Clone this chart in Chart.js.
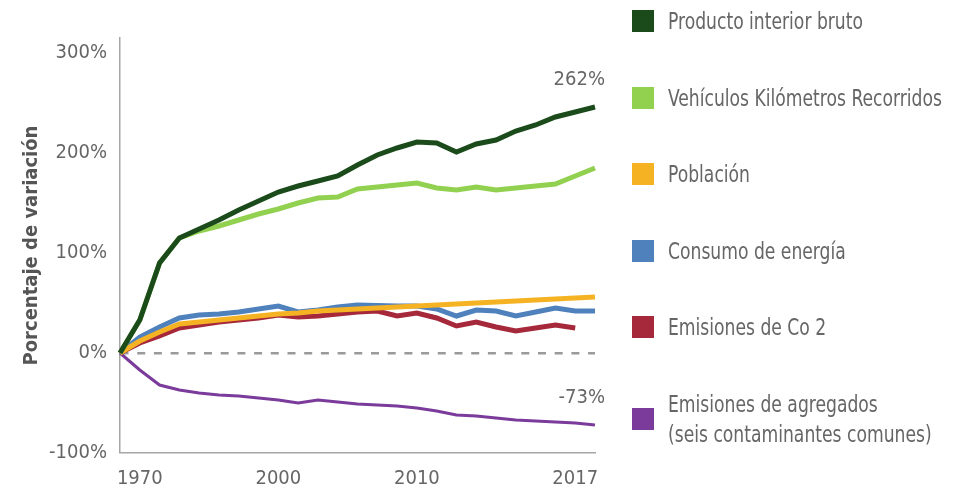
<!DOCTYPE html>
<html>
<head>
<meta charset="utf-8">
<script src="https://cdn.jsdelivr.net/npm/chart.js@4.4.1/dist/chart.umd.min.js"></script>
<style>
html,body{margin:0;padding:0;background:#fff;}
#wrap{position:relative;width:970px;height:493px;overflow:hidden;}
#chartBox{position:absolute;left:0;top:0;width:970px;height:493px;}
#legend{position:absolute;left:632px;top:6px;font-family:'DejaVu Sans Condensed','Liberation Sans Narrow',Roboto,sans-serif;font-size:23px;color:#666;}
.item{display:flex;align-items:center;margin-bottom:46.5px;}
.box{width:22px;height:22px;margin-right:14px;flex:none;}
.txt{display:inline-block;line-height:30px;white-space:pre;transform:scaleX(0.83);transform-origin:0 50%;}
</style>
</head>
<body>
<div id="wrap">
  <div id="chartBox"><canvas id="c"></canvas></div>
  <div id="legend"></div>
</div>
<script>
// ---- data ----
const years = [1970,1980,1990,1996,1997,1998,1999,2000,2001,2002,2003,2004,2005,2006,2007,2008,2009,2010,2011,2012,2013,2014,2015,2016,2017];
// axis labels as shown in the reference (one entry per category position)
const xTickLabels = ['','1970','','','','','','','2000','','','','','','','2010','','','','','','','','2017',''];
const yTickValues = [-100,0,100,200,300];

const seriesNames = [
  'Producto interior bruto',
  'Vehículos Kilómetros Recorridos',
  'Población',
  'Consumo de energía',
  'Emisiones de Co 2',
  'Emisiones de agregados\n(seis contaminantes comunes)'
];
const seriesColors = ['#1b4b1a','#92d050','#f5b324','#4f81bd','#a5293b','#7a3b9b'];

const gdp    = [0,33,90,115,124,133,143,152,161,167,172,177,188,198,205,211,210,201,209,213,222,228,236,241,246];
const vmt    = [0,33,90,115,122,127,133,139,144,150,155,156,164,166,168,170,165,163,166,163,165,167,169,177,185];
const pop    = [0,12,21,29,31,33,35,37,39,40,42,43,44,45,46,47,48,49,50,51,52,53,54,55,56];
const energy = [0,16,26,35,38,39,41,44,47,41,43,46,48,47.5,47,47,44,37,43,42,37,41,45,42,42];
const co2    = [0,10,17,25,28,31,33,35,38,36,37,39,41,42,37,40,35,27,31,26,22,25,28,25,null];
const agg    = [0,-17,-32,-37,-40,-42,-43,-45,-47,-50,-47,-49,-51,-52,-53,-55,-58,-62,-63,-65,-67,-68,-69,-70,-72];

const endLabelTexts = ['262%','-73%'];
const endLabelSeries = [0,5];

// ---- chart ----
const FONT = "'DejaVu Sans Condensed','Liberation Sans Narrow',Roboto,sans-serif";
const seriesData = [gdp,vmt,pop,energy,co2,agg];
const widths = [5,5,5,5,5,3];

const datasets = seriesData.map((d,i)=>({
  label: seriesNames[i],
  data: d,
  borderColor: seriesColors[i],
  backgroundColor: seriesColors[i],
  borderWidth: widths[i],
  pointRadius: 0,
  tension: 0,
  fill: false,
  spanGaps: false
}));

const endLabelPlugin = {
  id: 'endLabels',
  afterDatasetsDraw(chart){
    const {ctx, scales:{x,y}} = chart;
    ctx.save();
    ctx.font = '20px ' + FONT;
    ctx.fillStyle = '#666';
    ctx.textAlign = 'right';
    ctx.textBaseline = 'middle';
    endLabelTexts.forEach((t,k)=>{
      const d = chart.data.datasets[endLabelSeries[k]].data;
      const v = d[d.length-1];
      ctx.fillText(t, x.right + 10, y.getPixelForValue(v) - 27);
    });
    ctx.restore();
  }
};

const chart = new Chart(document.getElementById('c'), {
  type: 'line',
  data: { labels: years.map(String), datasets },
  options: {
    responsive: true,
    maintainAspectRatio: false,
    animation: false,
    events: [],
    layout: { padding: { left: 0, top: 38, right: 375, bottom: 0 } },
    plugins: { legend: { display: false }, tooltip: { enabled: false } },
    scales: {
      x: {
        type: 'category',
        offset: false,
        grid: { display: false, drawTicks: false },
        border: { display: true, color: '#a6a6a6', width: 1.5 },
        ticks: {
          autoSkip: false, maxRotation: 0, minRotation: 0,
          color: '#666', padding: 14,
          font: { family: FONT, size: 20 },
          callback: (v, i) => xTickLabels[i]
        },
        afterFit: s => { s.height = 40; }
      },
      y: {
        min: -100, max: 315,
        afterBuildTicks: s => { s.ticks = yTickValues.map(v => ({ value: v })); },
        grid: {
          drawTicks: false,
          color: c => (c.tick && c.tick.value === 0) ? '#9a9a9a' : 'rgba(0,0,0,0)',
          lineWidth: c => (c.tick && c.tick.value === 0) ? 2.5 : 0
        },
        border: { display: true, color: '#a6a6a6', width: 1.5, dash: [8, 8.7] },
        ticks: {
          color: '#666', padding: 13,
          font: { family: FONT, size: 20 },
          callback: v => v + '%'
        },
        title: {
          display: true,
          text: 'Porcentaje de variación',
          color: '#555',
          font: { family: FONT, size: 20, weight: 'bold' },
          padding: { top: 20, bottom: 0 }
        },
        afterFit: s => { s.width = 120; }
      }
    }
  },
  plugins: [endLabelPlugin]
});

// ---- legend (HTML, built from the chart's datasets) ----
const legend = document.getElementById('legend');
chart.data.datasets.forEach(ds => {
  const item = document.createElement('div');
  item.className = 'item';
  const box = document.createElement('span');
  box.className = 'box';
  box.style.background = ds.borderColor;
  const txt = document.createElement('span');
  txt.className = 'txt';
  txt.textContent = ds.label;
  item.appendChild(box); item.appendChild(txt);
  legend.appendChild(item);
});
</script>
</body>
</html>
